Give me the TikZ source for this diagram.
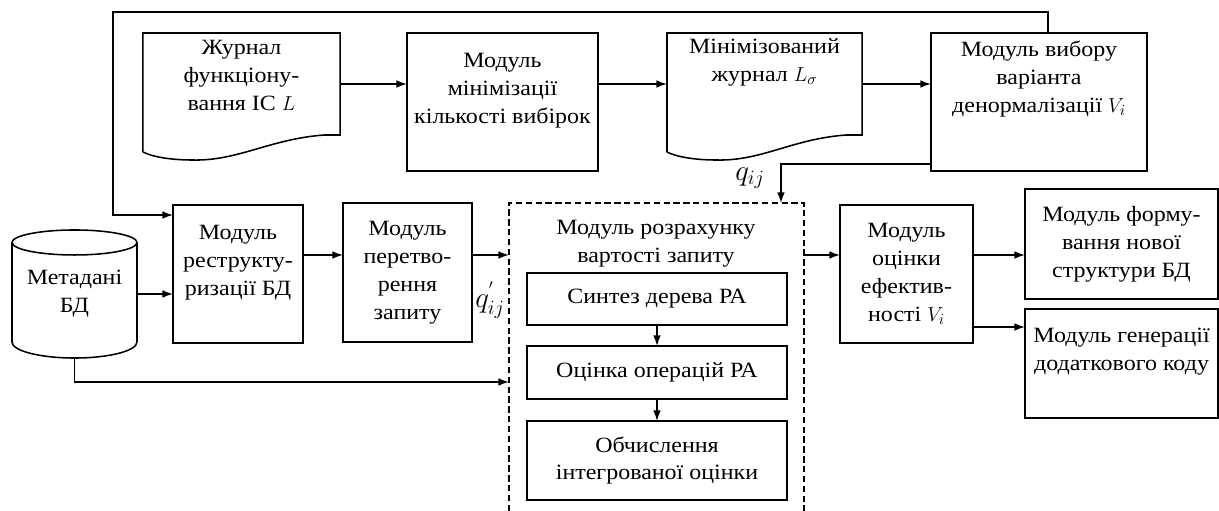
\documentclass[tikz,border=0pt]{standalone}
\usepackage{fontspec}
\setmainfont{Liberation Serif}[FakeStretch=1.1]
\usetikzlibrary{arrows.meta,calc}

\tikzset{
	line/.style={line width=1.1pt},
	arr/.style={line, -{Latex[length=7.5pt,width=5.5pt]}},
	box/.style={line, draw, inner sep=0pt, outer sep=0pt, align=center},
	plain/.style={inner sep=0pt, outer sep=0pt, align=center},
	frame/.style={line width=1.1pt, dash pattern=on 4.5pt off 2.5pt},
	qlabel/.style={plain, font=\fontsize{20}{22}\selectfont}
}

% document shape with wavy bottom, drawn round a plain node
\newcommand{\wavedoc}[1]{%
	\draw[line] ($(#1.south west)+(0,17)$) -- (#1.north west) -- (#1.north east) -- (#1.south east)
		-- ($(#1.south east)+(-16,0)$) .. controls ($(#1.south east)+(-70,4)$) and ($(#1.south west)+(95,26)$)
		.. ($(#1.south west)+(50,25)$) .. controls ($(#1.south west)+(28,25)$) and ($(#1.south west)+(10,22)$)
		.. ($(#1.south west)+(0,17)$);}

\begin{document}
\begin{tikzpicture}[x=0.025cm, y=-0.025cm, font=\fontsize{15.5}{19.8}\selectfont]
	\useasboundingbox (0,0) rectangle (1219,511);

	% top row
	\node[plain, minimum width=4.925cm, minimum height=2.55cm] (zhurnal) at (241.5,84) {Журнал\\функціону-\\вання ІС $L$\\[-8pt]~};
	\wavedoc{zhurnal}
	\node[box, minimum width=4.775cm, minimum height=3.45cm] (minim) at (502.5,102) {Модуль\\мінімізації\\кількості вибірок\\~};
	\node[plain, minimum width=4.875cm, minimum height=2.55cm] (minjur) at (764.5,84) {Мінімізований\\журнал $L_\sigma$\\[14pt]~};
	\wavedoc{minjur}
	\node[box, minimum width=5.4cm, minimum height=3.45cm] (vybory) at (1039,102) {Модуль вибору\\варіанта\\денормалізації $V_i$\\[16pt]~};

	% middle row
	\node[plain, minimum width=3.125cm, minimum height=3.2cm] (meta) at (74.5,294) {Метадані\\БД};
	\draw[line] ($(meta.north)+(0,12.5)$) ellipse [x radius=62.5, y radius=12.5];
	\draw[line] ($(meta.north west)+(0,12.5)$) -- ($(meta.south west)+(0,-16)$)
		arc[start angle=180, end angle=0, x radius=62.5, y radius=16] -- ($(meta.north east)+(0,12.5)$);
	\node[box, minimum width=3.25cm, minimum height=3.45cm] (restrukt) at (238,274) {Модуль\\реструкту-\\ризації БД\\~};
	\node[box, minimum width=3.225cm, minimum height=3.475cm] (peretvor) at (407.5,272.5) {Модуль\\перетво-\\рення\\запиту};

	% dashed module, open at the bottom
	\node[plain, minimum width=7.375cm, minimum height=7.7cm] (rozrah) at (656.5,357) {};
	\draw[frame] (rozrah.south west) -- (rozrah.north west) -- (rozrah.north east) -- (rozrah.south east);
	\node[plain] (rozrahT) at (656,244) {Модуль розрахунку\\вартості запиту};
	\node[box, minimum width=6.5cm, minimum height=1.3cm] (synth) at (657,299) {Синтез дерева РА};
	\node[box, minimum width=6.5cm, minimum height=1.325cm] (ocinka) at (657,372.5) {Оцінка операцій РА};
	\node[box, minimum width=6.5cm, minimum height=1.975cm] (obchysl) at (657,460.5) {Обчислення\\інтегрованої оцінки};

	\node[box, minimum width=3.325cm, minimum height=3.45cm] (efekt) at (906.5,274) {Модуль\\оцінки\\ефектив-\\ності $V_i$};
	\node[box, minimum width=4.825cm, minimum height=2.75cm] (formuv) at (1121.5,244) {Модуль форму-\\вання нової\\структури БД};
	\node[box, minimum width=4.825cm, minimum height=2.725cm] (generac) at (1121.5,363.5) {Модуль генерації\\додаткового коду\\~};

	% levels of the connectors
	\coordinate (lvl) at (0,255);
	\coordinate (lvl2) at (0,327);
	\coordinate (in1) at (0,215);
	\coordinate (mb) at (0,382);
	\coordinate (loop) at (113,12);
	\coordinate (qx) at (781,164);

	\draw[arr] (zhurnal.east) -- (zhurnal.east -| minim.west);
	\draw[arr] (zhurnal.east -| minim.east) -- (minjur.west);
	\draw[arr] (minjur.east) -- (minjur.east -| vybory.west);
	\draw[arr] ($(vybory.north)+(9,0)$) |- (loop) |- (restrukt.west |- in1);
	\draw[arr] (vybory.west |- qx) -| (rozrah.north -| qx);
	\node[qlabel] (q) at (750,178) {$q_{ij}$};

	\draw[arr] (meta.east) -- (meta.east -| restrukt.west);
	\draw[arr] (meta.south) |- (rozrah.west |- mb);
	\draw[arr] (restrukt.east |- lvl) -- (peretvor.west |- lvl);
	\draw[arr] (peretvor.east |- lvl) -- (rozrah.west |- lvl);
	\node[qlabel] (qp) at (490,300) {$q^{'}_{ij}$};
	\draw[arr] (synth) -- (ocinka);
	\draw[arr] (ocinka) -- (obchysl);

	\draw[arr] (rozrah.east |- lvl) -- (efekt.west |- lvl);
	\draw[arr] (efekt.east |- lvl) -- (formuv.west |- lvl);
	\draw[arr] (efekt.east |- lvl2) -- (generac.west |- lvl2);
\end{tikzpicture}
\end{document}
